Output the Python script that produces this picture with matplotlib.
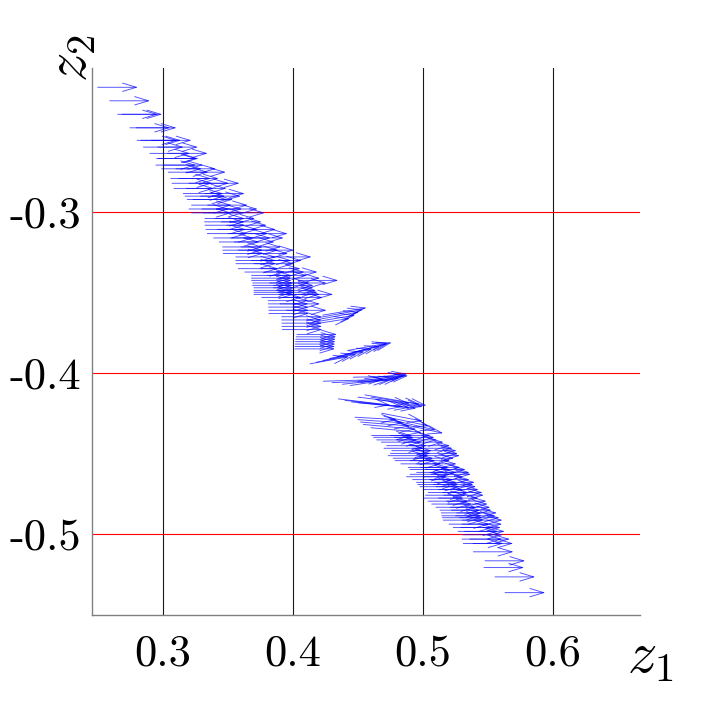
import matplotlib
matplotlib.use('Agg')
import matplotlib.pyplot as plt

plt.rcParams['mathtext.fontset'] = 'cm'

# horizontal arrows along the band (start points), all with the same step
band_z1 = [0.2498, 0.2591, 0.2652, 0.2685, 0.2746, 0.2795, 0.2802, 0.2830, 0.2910,
           0.2850, 0.2960,
           0.2900, 0.3035, 0.2951, 0.2965, 0.2946, 0.3000, 0.2990, 0.3100,
           0.3041, 0.3175, 0.3060, 0.3120, 0.3070, 0.3200, 0.3280,
           0.3085, 0.3180, 0.3156, 0.3320, 0.3170, 0.3290, 0.3187, 0.3230, 0.3220, 0.3344,
           0.3200, 0.3300, 0.3420,
           0.3220, 0.3310, 0.3475, 0.3323, 0.3400, 0.3320, 0.3450, 0.3323, 0.3490,
           0.3330, 0.3420, 0.3560,
           0.3341, 0.3500, 0.3650, 0.3390, 0.3520, 0.3620,
           0.3433, 0.3550, 0.3459, 0.3600, 0.3460, 0.3580, 0.3700, 0.3464, 0.3654,
           0.3560, 0.3834, 0.3560, 0.3680, 0.3760, 0.3562, 0.3700, 0.3580, 0.3750,
           0.3630, 0.3780, 0.3880, 0.3682, 0.3800, 0.3680, 0.3900,
           0.3682, 0.4039, 0.3690, 0.3820, 0.3950, 0.3690, 0.3850, 0.3700, 0.3850,
           0.3700, 0.3870, 0.3700, 0.3880, 0.3700, 0.3900, 0.4000, 0.3760, 0.3920,
           0.3810, 0.3810, 0.3900, 0.3812, 0.3815, 0.3950, 0.3815,
           0.3913, 0.3913, 0.3915, 0.3915, 0.3918,
           0.4030, 0.4025, 0.4022, 0.4020, 0.4018, 0.4016, 0.4015,
           0.4605, 0.4750, 0.4620, 0.4780, 0.4644, 0.4800, 0.4680, 0.4850,
           0.4721, 0.4900, 0.4700, 0.4920, 0.4760, 0.4950, 0.4750, 0.4960,
           0.4733, 0.4975, 0.4770, 0.4930, 0.4785, 0.4900, 0.4830, 0.4950,
           0.4887, 0.4980, 0.4900, 0.5020, 0.4951, 0.5050, 0.4900, 0.5060,
           0.4874, 0.5000, 0.4920, 0.5050, 0.4950, 0.5090, 0.4960, 0.5080,
           0.4977, 0.5100, 0.5000, 0.5120, 0.5041, 0.5150, 0.5020, 0.5160,
           0.5003, 0.5120, 0.5040, 0.5180, 0.5067, 0.5190, 0.5100, 0.5210,
           0.5131, 0.5220, 0.5140, 0.5260, 0.5144, 0.5250, 0.5150, 0.5280,
           0.5156, 0.5303, 0.5200, 0.5300, 0.5233, 0.5290, 0.5270, 0.5320,
           0.5305, 0.5300, 0.5360, 0.5310, 0.5385,
           0.5387, 0.5477, 0.5469, 0.5554, 0.5631]
band_z2 = [-0.2223, -0.2307, -0.2391, -0.2391, -0.2475, -0.2475, -0.2553, -0.2553, -0.2553,
           -0.2595, -0.2595,
           -0.2634, -0.2634, -0.2666, -0.2666, -0.2707, -0.2707, -0.2730, -0.2730,
           -0.2751, -0.2751, -0.2790, -0.2790, -0.2820, -0.2820, -0.2820,
           -0.2852, -0.2852, -0.2884, -0.2884, -0.2900, -0.2900, -0.2921, -0.2921, -0.2956, -0.2956,
           -0.2980, -0.2980, -0.2980,
           -0.3004, -0.3004, -0.3004, -0.3039, -0.3039, -0.3060, -0.3060, -0.3081, -0.3081,
           -0.3107, -0.3107, -0.3107,
           -0.3133, -0.3133, -0.3133, -0.3160, -0.3160, -0.3160,
           -0.3185, -0.3185, -0.3216, -0.3216, -0.3236, -0.3236, -0.3236, -0.3257, -0.3257,
           -0.3278, -0.3278, -0.3300, -0.3300, -0.3300, -0.3320, -0.3320, -0.3351, -0.3351,
           -0.3372, -0.3372, -0.3372, -0.3393, -0.3393, -0.3410, -0.3410,
           -0.3424, -0.3424, -0.3440, -0.3440, -0.3440, -0.3455, -0.3455, -0.3470, -0.3470,
           -0.3486, -0.3486, -0.3498, -0.3498, -0.3511, -0.3511, -0.3511, -0.3530, -0.3530,
           -0.3550, -0.3570, -0.3570, -0.3590, -0.3610, -0.3610, -0.3630,
           -0.3650, -0.3670, -0.3690, -0.3710, -0.3730,
           -0.3760, -0.3775, -0.3790, -0.3805, -0.3820, -0.3835, -0.3850,
           -0.4389, -0.4389, -0.4400, -0.4400, -0.4416, -0.4416, -0.4430, -0.4430,
           -0.4452, -0.4452, -0.4468, -0.4468, -0.4483, -0.4483, -0.4500, -0.4500,
           -0.4514, -0.4514, -0.4530, -0.4530, -0.4545, -0.4545, -0.4565, -0.4565,
           -0.4587, -0.4587, -0.4600, -0.4600, -0.4618, -0.4618, -0.4630, -0.4630,
           -0.4645, -0.4645, -0.4663, -0.4663, -0.4680, -0.4680, -0.4693, -0.4693,
           -0.4707, -0.4707, -0.4725, -0.4725, -0.4743, -0.4743, -0.4760, -0.4760,
           -0.4778, -0.4778, -0.4797, -0.4797, -0.4815, -0.4815, -0.4835, -0.4835,
           -0.4853, -0.4853, -0.4870, -0.4870, -0.4888, -0.4888, -0.4900, -0.4900,
           -0.4915, -0.4915, -0.4940, -0.4940, -0.4961, -0.4961, -0.4985, -0.4985,
           -0.5006, -0.5033, -0.5033, -0.5060, -0.5060,
           -0.5112, -0.5168, -0.5210, -0.5268, -0.5366]
band_u = 0.031

# slanted arrows in the fan-shaped clusters around z2 = -0.4
fan_z1 = [0.4125, 0.4150, 0.4175, 0.4200, 0.4230,
          0.4131, 0.4180, 0.4230, 0.4280, 0.4340, 0.4400, 0.4460, 0.4420,
          0.4233, 0.4300, 0.4380, 0.4440, 0.4464, 0.4500, 0.4520, 0.4550,
          0.4349, 0.4400, 0.4450, 0.4500, 0.4554, 0.4600, 0.4650, 0.4500,
          0.4477, 0.4500, 0.4520, 0.4541, 0.4682, 0.4700, 0.4750, 0.4800, 0.4600]
fan_z2 = [-0.3700, -0.3685, -0.3670, -0.3655, -0.3640,
          -0.3943, -0.3933, -0.3922, -0.3910, -0.3898, -0.3885, -0.3872, -0.3860,
          -0.4051, -0.4060, -0.4070, -0.4078, -0.4026, -0.4050, -0.4060, -0.4035,
          -0.4161, -0.4170, -0.4180, -0.4185, -0.4136, -0.4150, -0.4165, -0.4150,
          -0.4275, -0.4290, -0.4305, -0.4320, -0.4250, -0.4270, -0.4290, -0.4310, -0.4340]
fan_u = [0.0315, 0.0330, 0.0335, 0.0340, 0.0337,
         0.0300, 0.0310, 0.0320, 0.0330, 0.0330, 0.0330, 0.0300, 0.0310,
         0.0467, 0.0440, 0.0400, 0.0380, 0.0386, 0.0370, 0.0367, 0.0330,
         0.0401, 0.0450, 0.0450, 0.0450, 0.0474, 0.0380, 0.0350, 0.0400,
         0.0323, 0.0350, 0.0380, 0.0409, 0.0318, 0.0350, 0.0350, 0.0356, 0.0390]
fan_v = [0.0040, 0.0045, 0.0050, 0.0050, 0.0046,
         0.0045, 0.0050, 0.0055, 0.0060, 0.0065, 0.0068, 0.0062, 0.0046,
         0.0011, 0.0015, 0.0035, 0.0048, 0.0006, 0.0035, 0.0044, 0.0030,
         -0.0039, -0.0040, -0.0035, -0.0035, -0.0066, -0.0045, -0.0045, -0.0040,
         -0.0015, -0.0020, -0.0025, -0.0030, -0.0050, -0.0060, -0.0065, -0.0065, -0.0030]

x_ticks = [0.3, 0.4, 0.5, 0.6]
y_ticks = [-0.5, -0.4, -0.3]
x_ticklabels = ['0.3', '0.4', '0.5', '0.6']
y_ticklabels = ['-0.5', '-0.4', '-0.3']

fig = plt.figure(figsize=(7.06, 7.06), dpi=100)
ax = fig.add_axes([0.1303, 0.1289, 0.7762, 0.7748])

arrow_kw = dict(arrowstyle='->,head_length=1.0,head_width=0.3', color='blue',
                lw=0.65, alpha=0.7, shrinkA=0, shrinkB=0)

starts = list(zip(band_z1, band_z2, [band_u] * len(band_z1), [0.0] * len(band_z1)))
starts += list(zip(fan_z1, fan_z2, fan_u, fan_v))
for x0, y0, du, dv in starts:
    ax.annotate('', xy=(x0 + du, y0 + dv), xytext=(x0, y0), arrowprops=arrow_kw)

ax.set_xlim(0.2454, 0.6669)
ax.set_ylim(-0.5505, -0.2103)

for xt in x_ticks:
    ax.axvline(xt, color='#1a1a1a', lw=0.8, zorder=0)
for yt in y_ticks:
    ax.axhline(yt, color='red', lw=0.8, zorder=0)

ax.set_xticks(x_ticks)
ax.set_yticks(y_ticks)
ax.set_xticklabels(x_ticklabels, fontfamily='cmr10', fontsize=32)
ax.set_yticklabels(y_ticklabels, fontfamily='cmr10', fontsize=32)
ax.tick_params(axis='both', length=0)
ax.tick_params(axis='x', pad=14)
ax.tick_params(axis='y', pad=8)

for side in ['top', 'right']:
    ax.spines[side].set_visible(False)
for side in ['left', 'bottom']:
    ax.spines[side].set_color('#808080')
    ax.spines[side].set_linewidth(1.0)

fig.text(0.921, 0.072, '$z_1$', fontsize=42, ha='center', va='center')
fig.text(0.099, 0.918, '$z_2$', fontsize=42, ha='center', va='center', rotation=90)

plt.savefig('out.png', dpi=100)
plt.close(fig)
